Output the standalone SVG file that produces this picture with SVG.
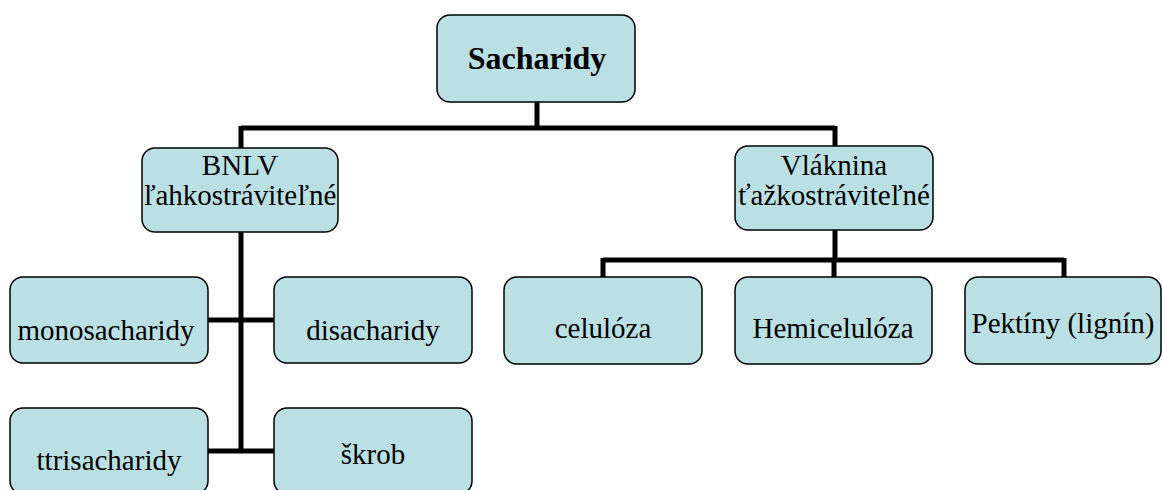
<svg xmlns="http://www.w3.org/2000/svg" width="1162" height="490" viewBox="0 0 1162 490">
<style>
.box{fill:#BAE0E3;stroke:#000;stroke-width:1.5}
.t{font-family:"Liberation Serif","Times New Roman",serif;font-size:29px;fill:#000;text-anchor:middle}
.b{font-weight:bold;font-size:32px}
.c{fill:none;stroke:#000;stroke-width:5;stroke-linecap:butt}
</style>
<rect width="1162" height="490" fill="#fff"/>
<g id="connectors">
<path class="c" d="M537 102V128M241 128H835M241 126V148M835 126V146"/>
<path class="c" d="M241 232V453M208 320H274M208 451H274"/>
<path class="c" d="M835 230V260M603 260H1064M603 258V277M834 258V277M1064 258V277"/>
</g>
<g id="sacharidy"><rect class="box" x="437" y="15" width="198" height="87" rx="13"/><text class="t b" x="537" y="69">Sacharidy</text></g>
<g id="bnlv"><rect class="box" x="142" y="148" width="196" height="84" rx="13"/><text class="t" x="240" y="175">BNLV</text><text class="t" x="240" y="205">ľahkostráviteľné</text></g>
<g id="vlaknina"><rect class="box" x="735" y="146" width="198" height="84" rx="13"/><text class="t" x="834" y="175">Vláknina</text><text class="t" x="834" y="205">ťažkostráviteľné</text></g>
<g id="monosacharidy"><rect class="box" x="10" y="277" width="198" height="86" rx="13"/><text class="t" x="106" y="340">monosacharidy</text></g>
<g id="disacharidy"><rect class="box" x="274" y="277" width="198" height="86" rx="13"/><text class="t" x="373" y="340">disacharidy</text></g>
<g id="ttrisacharidy"><rect class="box" x="10" y="408" width="198" height="86" rx="13"/><text class="t" x="109" y="470">ttrisacharidy</text></g>
<g id="skrob"><rect class="box" x="274" y="408" width="198" height="86" rx="13"/><text class="t" x="373" y="464">škrob</text></g>
<g id="celuloza"><rect class="box" x="504" y="277" width="198" height="87" rx="13"/><text class="t" x="603" y="338">celulóza</text></g>
<g id="hemiceluloza"><rect class="box" x="735" y="277" width="197" height="87" rx="13"/><text class="t" x="833" y="338">Hemicelulóza</text></g>
<g id="pektiny"><rect class="box" x="965" y="277" width="196" height="87" rx="13"/><text class="t" x="1063" y="333">Pektíny (lignín)</text></g>
</svg>
